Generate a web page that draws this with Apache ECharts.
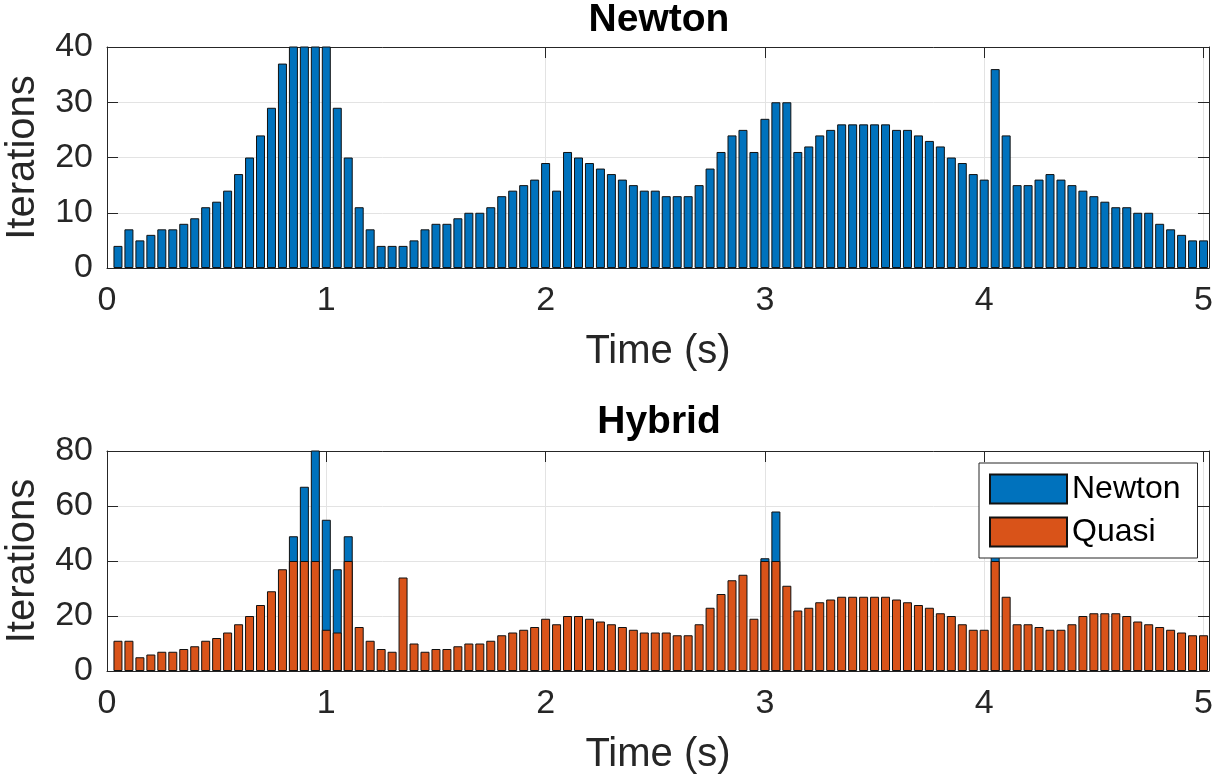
<!DOCTYPE html>
<html>

<head>
    <meta charset="UTF-8">
    <script src="https://cdn.jsdelivr.net/npm/echarts@6.0.0/dist/echarts.min.js"></script>
    <style>
        html, body { margin: 0; padding: 0; background: #fff; }
    </style>
</head>

<body>
    <div id="main" style="width: 1225px; height: 778px;"></div>
    <script>
        // time steps: 0.05 s .. 5.00 s
        const times = Array.from({ length: 100 }, (_, i) => +((i + 1) * 0.05).toFixed(2));

        // top panel: Newton iterations (0.85-1.00 run past the 40 limit)
        const newtonIters = [
            4, 7, 5, 6, 7, 7, 8, 9, 11, 12, 14, 17, 20, 24, 29, 37, 44, 46, 47, 43, 29, 20, 11, 7, 4,
            4, 4, 5, 7, 8, 8, 9, 10, 10, 11, 13, 14, 15, 16, 19, 14, 21, 20, 19, 18, 17, 16, 15, 14, 14,
            13, 13, 13, 15, 18, 21, 24, 25, 21, 27, 30, 30, 21, 22, 24, 25, 26, 26, 26, 26, 26, 25, 25, 24, 23,
            22, 20, 19, 17, 16, 36, 24, 15, 15, 16, 17, 16, 15, 14, 13, 12, 11, 11, 10, 10, 8, 7, 6, 5, 5
        ];

        // bottom panel: Quasi iterations
        const quasiIters = [
            11, 11, 5, 6, 7, 7, 8, 9, 11, 12, 14, 17, 20, 24, 29, 37, 40, 40, 40, 15, 14, 40, 16, 11, 8,
            7, 34, 10, 7, 8, 8, 9, 10, 10, 11, 13, 14, 15, 16, 19, 17, 20, 20, 19, 18, 17, 16, 15, 14, 14,
            14, 13, 13, 17, 23, 28, 33, 35, 19, 40, 40, 31, 22, 23, 25, 26, 27, 27, 27, 27, 27, 26, 25, 24, 23,
            21, 20, 17, 15, 15, 40, 27, 17, 17, 16, 15, 15, 17, 20, 21, 21, 21, 20, 18, 17, 16, 15, 14, 13, 13
        ];

        // bottom panel: total height where Newton iterations show above Quasi
        const hybridNewtonTimes = [0.85, 0.90, 0.95, 1.00, 1.05, 1.10, 3.00, 3.05, 4.05];
        const hybridNewtonIters = [49, 67, 88, 55, 37, 49, 41, 58, 45];

        const xTicks = [0, 1, 2, 3, 4, 5];

        const FONT = "'Liberation Sans', Arial, Helvetica, sans-serif";
        const AXIS_COLOR = '#262626';
        const GRID_COLOR = '#e3e3e3';
        const BLUE = '#0072BD';
        const ORANGE = '#D95319';

        function mainX(g) {
            return {
                type: 'value', gridIndex: g, position: 'bottom',
                min: 0, max: 5.025, interval: 1,
                axisLine: { show: true, onZero: false, lineStyle: { color: AXIS_COLOR, width: 1 } },
                axisTick: { show: true, inside: true, length: 11, lineStyle: { color: AXIS_COLOR } },
                axisLabel: {
                    fontSize: 34, color: AXIS_COLOR, fontFamily: FONT, margin: 16,
                    formatter: v => xTicks.indexOf(v) >= 0 ? String(v) : ''
                },
                splitLine: { show: true, lineStyle: { color: GRID_COLOR } },
                name: 'Time (s)', nameLocation: 'middle', nameGap: 64,
                nameTextStyle: { fontSize: 40, color: AXIS_COLOR, fontFamily: FONT }
            };
        }
        function boxX(g) {
            return {
                type: 'value', gridIndex: g, position: 'top',
                min: 0, max: 5.025, interval: 1,
                axisLine: { show: true, onZero: false, lineStyle: { color: AXIS_COLOR, width: 1 } },
                axisTick: { show: true, inside: true, length: 11, lineStyle: { color: AXIS_COLOR } },
                axisLabel: { show: false },
                splitLine: { show: false }
            };
        }
        function mainY(g, max, step) {
            return {
                type: 'value', gridIndex: g, position: 'left',
                min: 0, max: max, interval: step,
                axisLine: { show: true, onZero: false, lineStyle: { color: AXIS_COLOR, width: 1 } },
                axisTick: { show: true, inside: true, length: 11, lineStyle: { color: AXIS_COLOR } },
                axisLabel: { fontSize: 34, color: AXIS_COLOR, fontFamily: FONT, margin: 14 },
                splitLine: { show: true, lineStyle: { color: GRID_COLOR } },
                name: 'Iterations', nameLocation: 'middle', nameGap: 64, nameRotate: 90,
                nameTextStyle: { fontSize: 40, color: AXIS_COLOR, fontFamily: FONT }
            };
        }
        function boxY(g, max, step) {
            return {
                type: 'value', gridIndex: g, position: 'right',
                min: 0, max: max, interval: step,
                axisLine: { show: true, onZero: false, lineStyle: { color: AXIS_COLOR, width: 1 } },
                axisTick: { show: true, inside: true, length: 11, lineStyle: { color: AXIS_COLOR } },
                axisLabel: { show: false },
                splitLine: { show: false }
            };
        }

        const barStyle = (c) => ({ color: c, borderColor: '#111', borderWidth: 1 });

        var myChart = echarts.init(document.getElementById('main'));
        var option = {
            animation: false,
            backgroundColor: '#fff',
            title: [
                {
                    text: 'Newton', left: 659, top: 1, textAlign: 'center', padding: 0,
                    textStyle: { fontSize: 39, fontWeight: 'bold', color: '#000', fontFamily: FONT }
                },
                {
                    text: 'Hybrid', left: 659, top: 403, textAlign: 'center', padding: 0,
                    textStyle: { fontSize: 39, fontWeight: 'bold', color: '#000', fontFamily: FONT }
                }
            ],
            legend: {
                orient: 'vertical', left: 979, top: 463,
                data: ['Newton', 'Quasi'],
                icon: 'rect', itemWidth: 77, itemHeight: 29, itemGap: 11,
                padding: [10, 17, 10, 10],
                borderColor: AXIS_COLOR, borderWidth: 1, backgroundColor: '#fff',
                textStyle: { fontSize: 32, color: '#000', fontFamily: FONT }
            },
            grid: [
                { left: 107, right: 16, top: 47, height: 221, outerBoundsMode: 'none', containLabel: false },
                { left: 107, right: 16, top: 451, height: 220, outerBoundsMode: 'none', containLabel: false }
            ],
            xAxis: [mainX(0), boxX(0), mainX(1), boxX(1)],
            yAxis: [mainY(0, 40, 10), boxY(0, 40, 10), mainY(1, 80, 20), boxY(1, 80, 20)],
            series: [
                {
                    name: 'Newton', type: 'bar', xAxisIndex: 0, yAxisIndex: 0,
                    barWidth: 9, clip: true,
                    data: times.map((t, i) => [t, newtonIters[i]]),
                    itemStyle: barStyle(BLUE)
                },
                {
                    name: 'Newton', type: 'bar', xAxisIndex: 2, yAxisIndex: 2,
                    barWidth: 9, barGap: '-100%', clip: true,
                    data: hybridNewtonTimes.map((t, i) => [t, hybridNewtonIters[i]]),
                    itemStyle: barStyle(BLUE)
                },
                {
                    name: 'Quasi', type: 'bar', xAxisIndex: 2, yAxisIndex: 2,
                    barWidth: 9, barGap: '-100%', clip: true,
                    data: times.map((t, i) => [t, quasiIters[i]]),
                    itemStyle: barStyle(ORANGE)
                }
            ]
        };

        option && myChart.setOption(option);
    </script>
</body>

</html>
